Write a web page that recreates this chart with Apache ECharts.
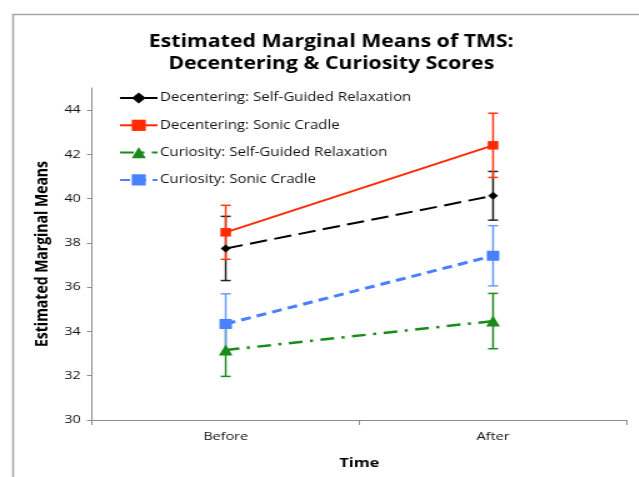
<!DOCTYPE html>
<html>
<head>
<meta charset="utf-8">
<script src="https://cdn.jsdelivr.net/npm/echarts@6/dist/echarts.min.js"></script>
<style>
  html, body { margin: 0; padding: 0; background: #fff; overflow: hidden; }
  /* the original slide is stretched sideways, so draw narrow and widen it */
  #main { width: 511px; height: 477px; transform: scaleX(1.25); transform-origin: 0 0; }
</style>
</head>
<body>
<div id="main"></div>
<script>
// categories and series values
const times = ['Before', 'After']
const decSelf = [37.75, 40.13]
const decSonic = [38.48, 42.41]
const curSelf = [33.16, 34.47]
const curSonic = [34.34, 37.42]
// error bar half-widths
const decSelfErr = [1.45, 1.1]
const decSonicErr = [1.22, 1.45]
const curSelfErr = [1.19, 1.25]
const curSonicErr = [1.36, 1.36]
const yTicks = [30, 32, 34, 36, 38, 40, 42, 44]

const fontName = '"Open Sans", Lato, sans-serif'
const chart = echarts.init(document.getElementById('main'))

// error bars as custom series
function errSeries(name, values, errs, color) {
  const data = values.map((v, i) => [i, v - errs[i], v + errs[i]])
  return {
    name: name + ' err',
    type: 'custom',
    z: 1,
    data: data,
    renderItem: function (params, api) {
      const x = api.value(0)
      const lo = api.coord([x, api.value(1)])
      const hi = api.coord([x, api.value(2)])
      const w = 4
      const style = { stroke: color, lineWidth: 1.5 }
      return {
        type: 'group',
        children: [
          { type: 'line', shape: { x1: lo[0], y1: lo[1], x2: hi[0], y2: hi[1] }, style: style },
          { type: 'line', shape: { x1: lo[0] - w, y1: lo[1], x2: lo[0] + w, y2: lo[1] }, style: style },
          { type: 'line', shape: { x1: hi[0] - w, y1: hi[1], x2: hi[0] + w, y2: hi[1] }, style: style }
        ]
      }
    }
  }
}

const option = {
  animation: false,
  textStyle: { fontFamily: fontName },
  title: {
    text: 'Estimated Marginal Means of TMS:\nDecentering & Curiosity Scores',
    left: 260,
    textAlign: 'center',
    top: 26,
    textStyle: { fontSize: 17, fontWeight: 'bold', color: '#000', lineHeight: 22, fontFamily: fontName }
  },
  graphic: [{
    type: 'rect',
    left: 8, top: 12,
    shape: { width: 600, height: 520 },
    style: { fill: 'none', stroke: '#a6a6a6', lineWidth: 1.5 },
    silent: true
  }],
  legend: {
    orient: 'vertical',
    left: 90,
    top: 85,
    itemWidth: 30,
    itemHeight: 14,
    itemGap: 11.3,
    textStyle: { fontSize: 12, color: '#111', fontFamily: fontName, padding: [0, 0, 0, -3], lineHeight: 16 },
    data: [
      'Decentering: Self-Guided Relaxation',
      'Decentering: Sonic Cradle',
      'Curiosity: Self-Guided Relaxation',
      'Curiosity: Sonic Cradle'
    ]
  },
  grid: { left: 73.6, right: 9.6, top: 88, bottom: 57 },
  xAxis: {
    type: 'category',
    data: times,
    boundaryGap: true,
    name: 'Time',
    nameLocation: 'middle',
    nameGap: 37,
    nameTextStyle: { fontSize: 13, fontWeight: 'bold', color: '#000', fontFamily: fontName },
    axisLine: { lineStyle: { color: '#8c8c8c', width: 1 } },
    axisTick: { show: true, length: 5, lineStyle: { color: '#8c8c8c' } },
    axisLabel: { fontSize: 11.5, color: '#111', margin: 11, fontFamily: fontName }
  },
  yAxis: {
    type: 'value',
    min: 30,
    max: 45,
    interval: 1,
    name: 'Estimated Marginal Means',
    nameLocation: 'middle',
    nameGap: 28,
    nameTextStyle: { fontSize: 14, fontWeight: 'bold', color: '#000', fontFamily: fontName },
    axisLine: { show: true, lineStyle: { color: '#8c8c8c', width: 1 } },
    axisTick: { show: true, length: 4, lineStyle: { color: '#8c8c8c' }, customValues: yTicks },
    axisLabel: { fontSize: 11.5, color: '#111', margin: 9, customValues: yTicks, fontFamily: fontName },
    splitLine: { show: false }
  },
  series: [
    errSeries('ds', decSelf, decSelfErr, '#222'),
    errSeries('dc', decSonic, decSonicErr, '#ff3a14'),
    errSeries('cs', curSelf, curSelfErr, '#1f8c1f'),
    errSeries('cc', curSonic, curSonicErr, '#6a9bff'),
    {
      name: 'Decentering: Self-Guided Relaxation',
      type: 'line',
      data: decSelf,
      z: 3,
      symbol: 'diamond',
      symbolSize: 8,
      itemStyle: { color: '#000' },
      lineStyle: { color: '#000', width: 2, type: [14, 6] }
    },
    {
      name: 'Decentering: Sonic Cradle',
      type: 'line',
      data: decSonic,
      z: 3,
      symbol: 'rect',
      symbolSize: 8.5,
      itemStyle: { color: '#ff2a00' },
      lineStyle: { color: '#ff2a00', width: 2 }
    },
    {
      name: 'Curiosity: Self-Guided Relaxation',
      type: 'line',
      data: curSelf,
      z: 3,
      symbol: 'triangle',
      symbolSize: 11,
      itemStyle: { color: '#1a8a1a' },
      lineStyle: { color: '#1a8a1a', width: 2.5, type: [11, 6, 2.5, 6] }
    },
    {
      name: 'Curiosity: Sonic Cradle',
      type: 'line',
      data: curSonic,
      z: 3,
      symbol: 'rect',
      symbolSize: 10,
      itemStyle: { color: '#4a7fff' },
      lineStyle: { color: '#4a7fff', width: 3, type: [8, 5] }
    }
  ]
}
chart.setOption(option)
</script>
</body>
</html>
